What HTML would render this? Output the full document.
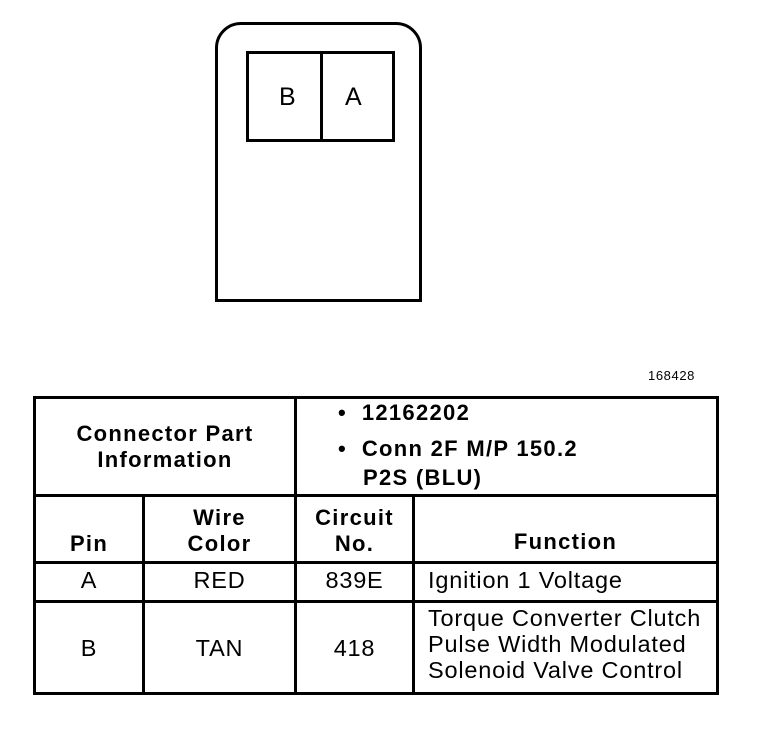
<!DOCTYPE html>
<html><head><style>
body{margin:0;background:#fff;width:768px;height:746px;position:relative;overflow:hidden;font-family:"Liberation Sans",sans-serif;color:#000}
.a{position:absolute}
.h{position:absolute;background:#000}
.t{position:absolute;font-size:23.5px;line-height:26px;letter-spacing:0.8px;white-space:nowrap}
.b{font-weight:bold;font-size:22px;letter-spacing:1.3px}
</style></head><body>
<div class="a" style="left:215px;top:22px;width:201px;height:274px;border:3px solid #000;border-radius:26px 26px 0 0"></div>
<div class="a" style="left:246px;top:51px;width:143px;height:85px;border:3px solid #000"></div>
<div class="h" style="left:320px;top:51px;width:3px;height:88px"></div>
<div class="t" style="left:279px;top:84px;font-size:25px;letter-spacing:0">B</div>
<div class="t" style="left:345px;top:84px;font-size:25px;letter-spacing:0">A</div>
<div class="t" style="left:648px;top:368px;font-size:13px;line-height:16px;letter-spacing:0.6px">168428</div>
<div class="a" style="left:33px;top:396px;width:680px;height:293px;border:3px solid #000"></div>
<div class="h" style="left:33px;top:494px;width:683px;height:3px"></div>
<div class="h" style="left:33px;top:561px;width:683px;height:3px"></div>
<div class="h" style="left:33px;top:600px;width:683px;height:3px"></div>
<div class="h" style="left:294px;top:396px;width:3px;height:296px"></div>
<div class="h" style="left:142px;top:494px;width:3px;height:198px"></div>
<div class="h" style="left:412px;top:494px;width:3px;height:198px"></div>
<div class="t b" style="left:36px;top:421px;width:258px;text-align:center">Connector Part<br>Information</div>
<div class="t b" style="left:338px;top:400px">•&nbsp; 12162202</div>
<div class="t b" style="left:338px;top:436px">•&nbsp; Conn 2F M/P 150.2</div>
<div class="t b" style="left:363px;top:465px">P2S (BLU)</div>
<div class="t b" style="left:36px;top:531px;width:106px;text-align:center">Pin</div>
<div class="t b" style="left:145px;top:505px;width:149px;text-align:center">Wire<br>Color</div>
<div class="t b" style="left:297px;top:505px;width:115px;text-align:center">Circuit<br>No.</div>
<div class="t b" style="left:415px;top:529px;width:301px;text-align:center">Function</div>
<div class="t" style="left:36px;top:567px;width:106px;text-align:center">A</div>
<div class="t" style="left:145px;top:567px;width:149px;text-align:center">RED</div>
<div class="t" style="left:297px;top:567px;width:115px;text-align:center">839E</div>
<div class="t" style="left:428px;top:567px">Ignition 1 Voltage</div>
<div class="t" style="left:36px;top:635px;width:106px;text-align:center">B</div>
<div class="t" style="left:145px;top:635px;width:149px;text-align:center">TAN</div>
<div class="t" style="left:297px;top:635px;width:115px;text-align:center">418</div>
<div class="t" style="left:428px;top:605px">Torque Converter Clutch<br>Pulse Width Modulated<br>Solenoid Valve Control</div>
</body></html>
